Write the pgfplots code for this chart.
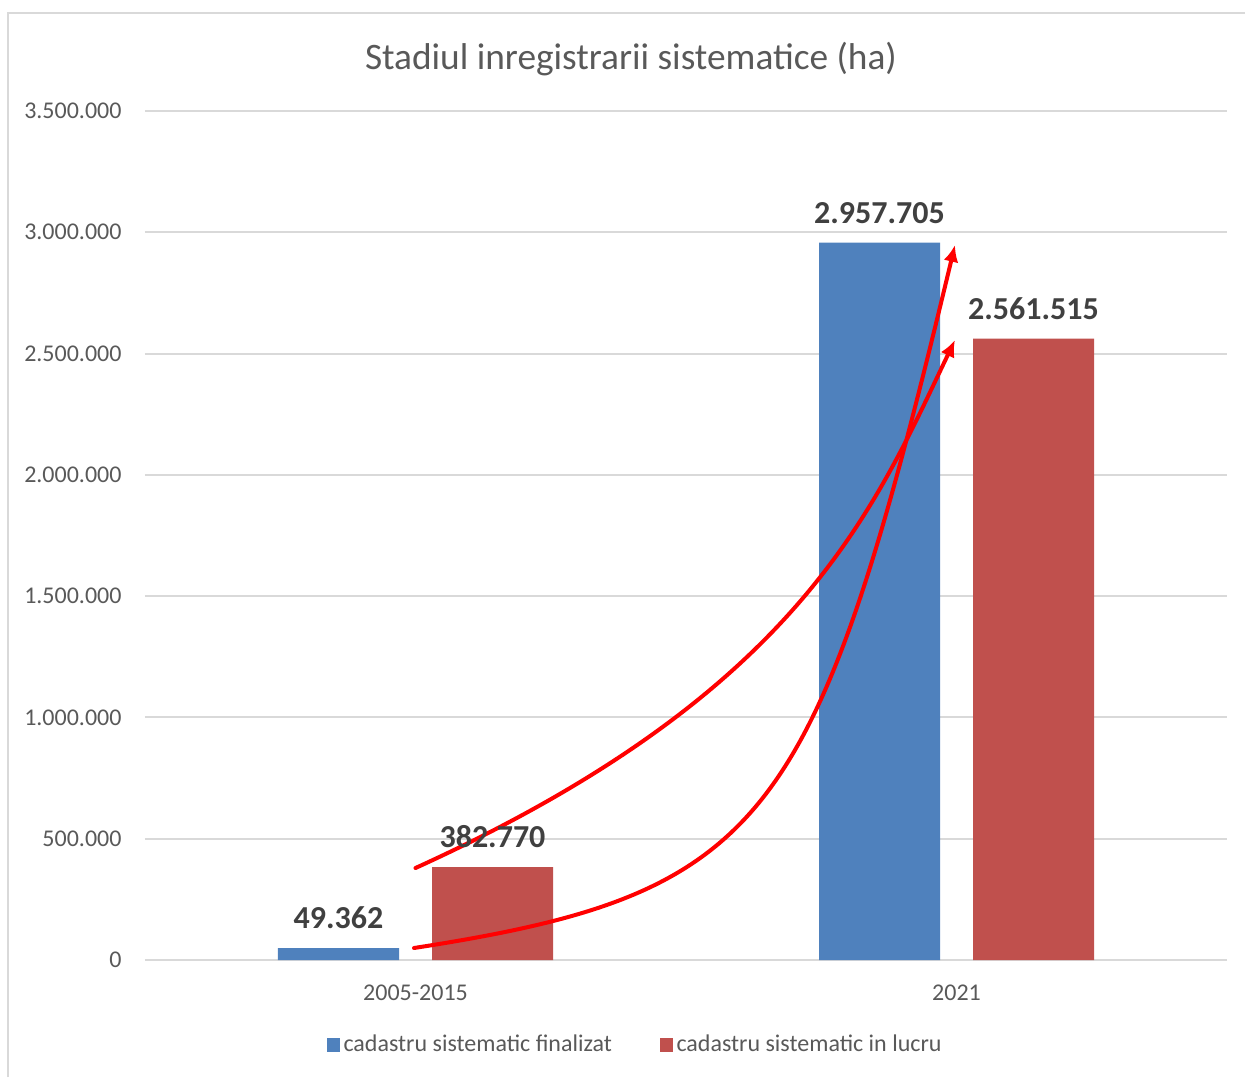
\documentclass[border=0pt]{standalone}
\usepackage{fontspec}
\setmainfont{Carlito}
\usepackage{pgfplots}
\pgfplotsset{compat=1.18}
\usetikzlibrary{arrows.meta}
\definecolor{gridc}{HTML}{D9D9D9}
\definecolor{txt}{HTML}{595959}
\definecolor{lbl}{HTML}{404040}
\definecolor{cblue}{HTML}{4F81BD}
\definecolor{cred}{HTML}{C0504D}
\pgfplotsset{sqlegend/.style={legend image code/.code={\fill[##1] (0pt,-2.45pt) rectangle (4.9pt,2.45pt);}}}
\begin{document}
\begin{tikzpicture}
\useasboundingbox (0,0) rectangle (466.875pt,403.875pt);
\draw[gridc, line width=0.75pt] (3pt,0pt) -- (3pt,399pt) -- (466.875pt,399pt);
\node[txt, font=\fontsize{14pt}{16.8pt}\selectfont, anchor=center] at (236.6pt,381.8pt) {Stadiul inregistrarii sistematice (ha)};
\begin{axis}[
  at={(54.375pt,43.875pt)}, anchor=south west, scale only axis,
  width=405.75pt, height=318.375pt,
  xmin=-0.5, xmax=1.5, ymin=0, ymax=3500000,
  xtick={0,1}, xticklabels={2005-2015,2021},
  ytick={0,500000,1000000,1500000,2000000,2500000,3000000,3500000},
  scaled y ticks=false,
  /pgf/number format/.cd, fixed, precision=0, 1000 sep={.}, assume math mode=true, /pgfplots/.cd,
  ymajorgrids, grid style={gridc, line width=0.75pt},
  axis line style={draw=none},
  major tick length=0pt,
  tick label style={txt, font=\fontsize{9pt}{10.8pt}\selectfont, inner sep=0pt},
  yticklabel style={xshift=-8.6pt},
  xticklabel style={yshift=-9.2pt},
  legend columns=2,
  legend style={at={(0.4538,-0.1001)}, anchor=center, draw=none, fill=none,
    font=\fontsize{9pt}{10.8pt}\selectfont, text=txt, inner sep=0pt,
    nodes={inner sep=1.4pt},
    /tikz/every even column/.append style={column sep=16.5pt}},
  clip=false,
]
\addplot[ybar, fill=cblue, draw=none, bar width=45.375pt, bar shift=-28.875pt, sqlegend,
  nodes near coords, every node near coord/.append style={anchor=south, inner sep=0pt, xshift=-28.875pt, yshift=7pt, text=lbl, font=\fontsize{12pt}{14.4pt}\selectfont\bfseries}]
  coordinates {(0,49362) (1,2957705)};
\addlegendentry{cadastru sistematic finalizat}
\addplot[ybar, fill=cred, draw=none, bar width=45.375pt, bar shift=28.875pt, sqlegend,
  nodes near coords, every node near coord/.append style={anchor=south, inner sep=0pt, xshift=28.875pt, yshift=7pt, text=lbl, font=\fontsize{12pt}{14.4pt}\selectfont\bfseries}]
  coordinates {(0,382770) (1,2561515)};
\addlegendentry{cadastru sistematic in lucru}
\draw[red, line width=1.5pt, line cap=round, -{Latex[length=6.3pt,width=5.6pt]}]
  (axis cs:0.0,379270) .. controls (axis cs:0.7107,1100708) and (axis cs:0.8464,1855125) .. (axis cs:0.9972,2555950);
\draw[red, line width=1.5pt, line cap=round, -{Latex[length=6.3pt,width=5.6pt]}]
  (axis cs:-0.0028,49470) .. controls (axis cs:0.6530,276208) and (axis cs:0.7399,556538) .. (axis cs:0.9972,2947588);
\end{axis}
\end{tikzpicture}
\end{document}
